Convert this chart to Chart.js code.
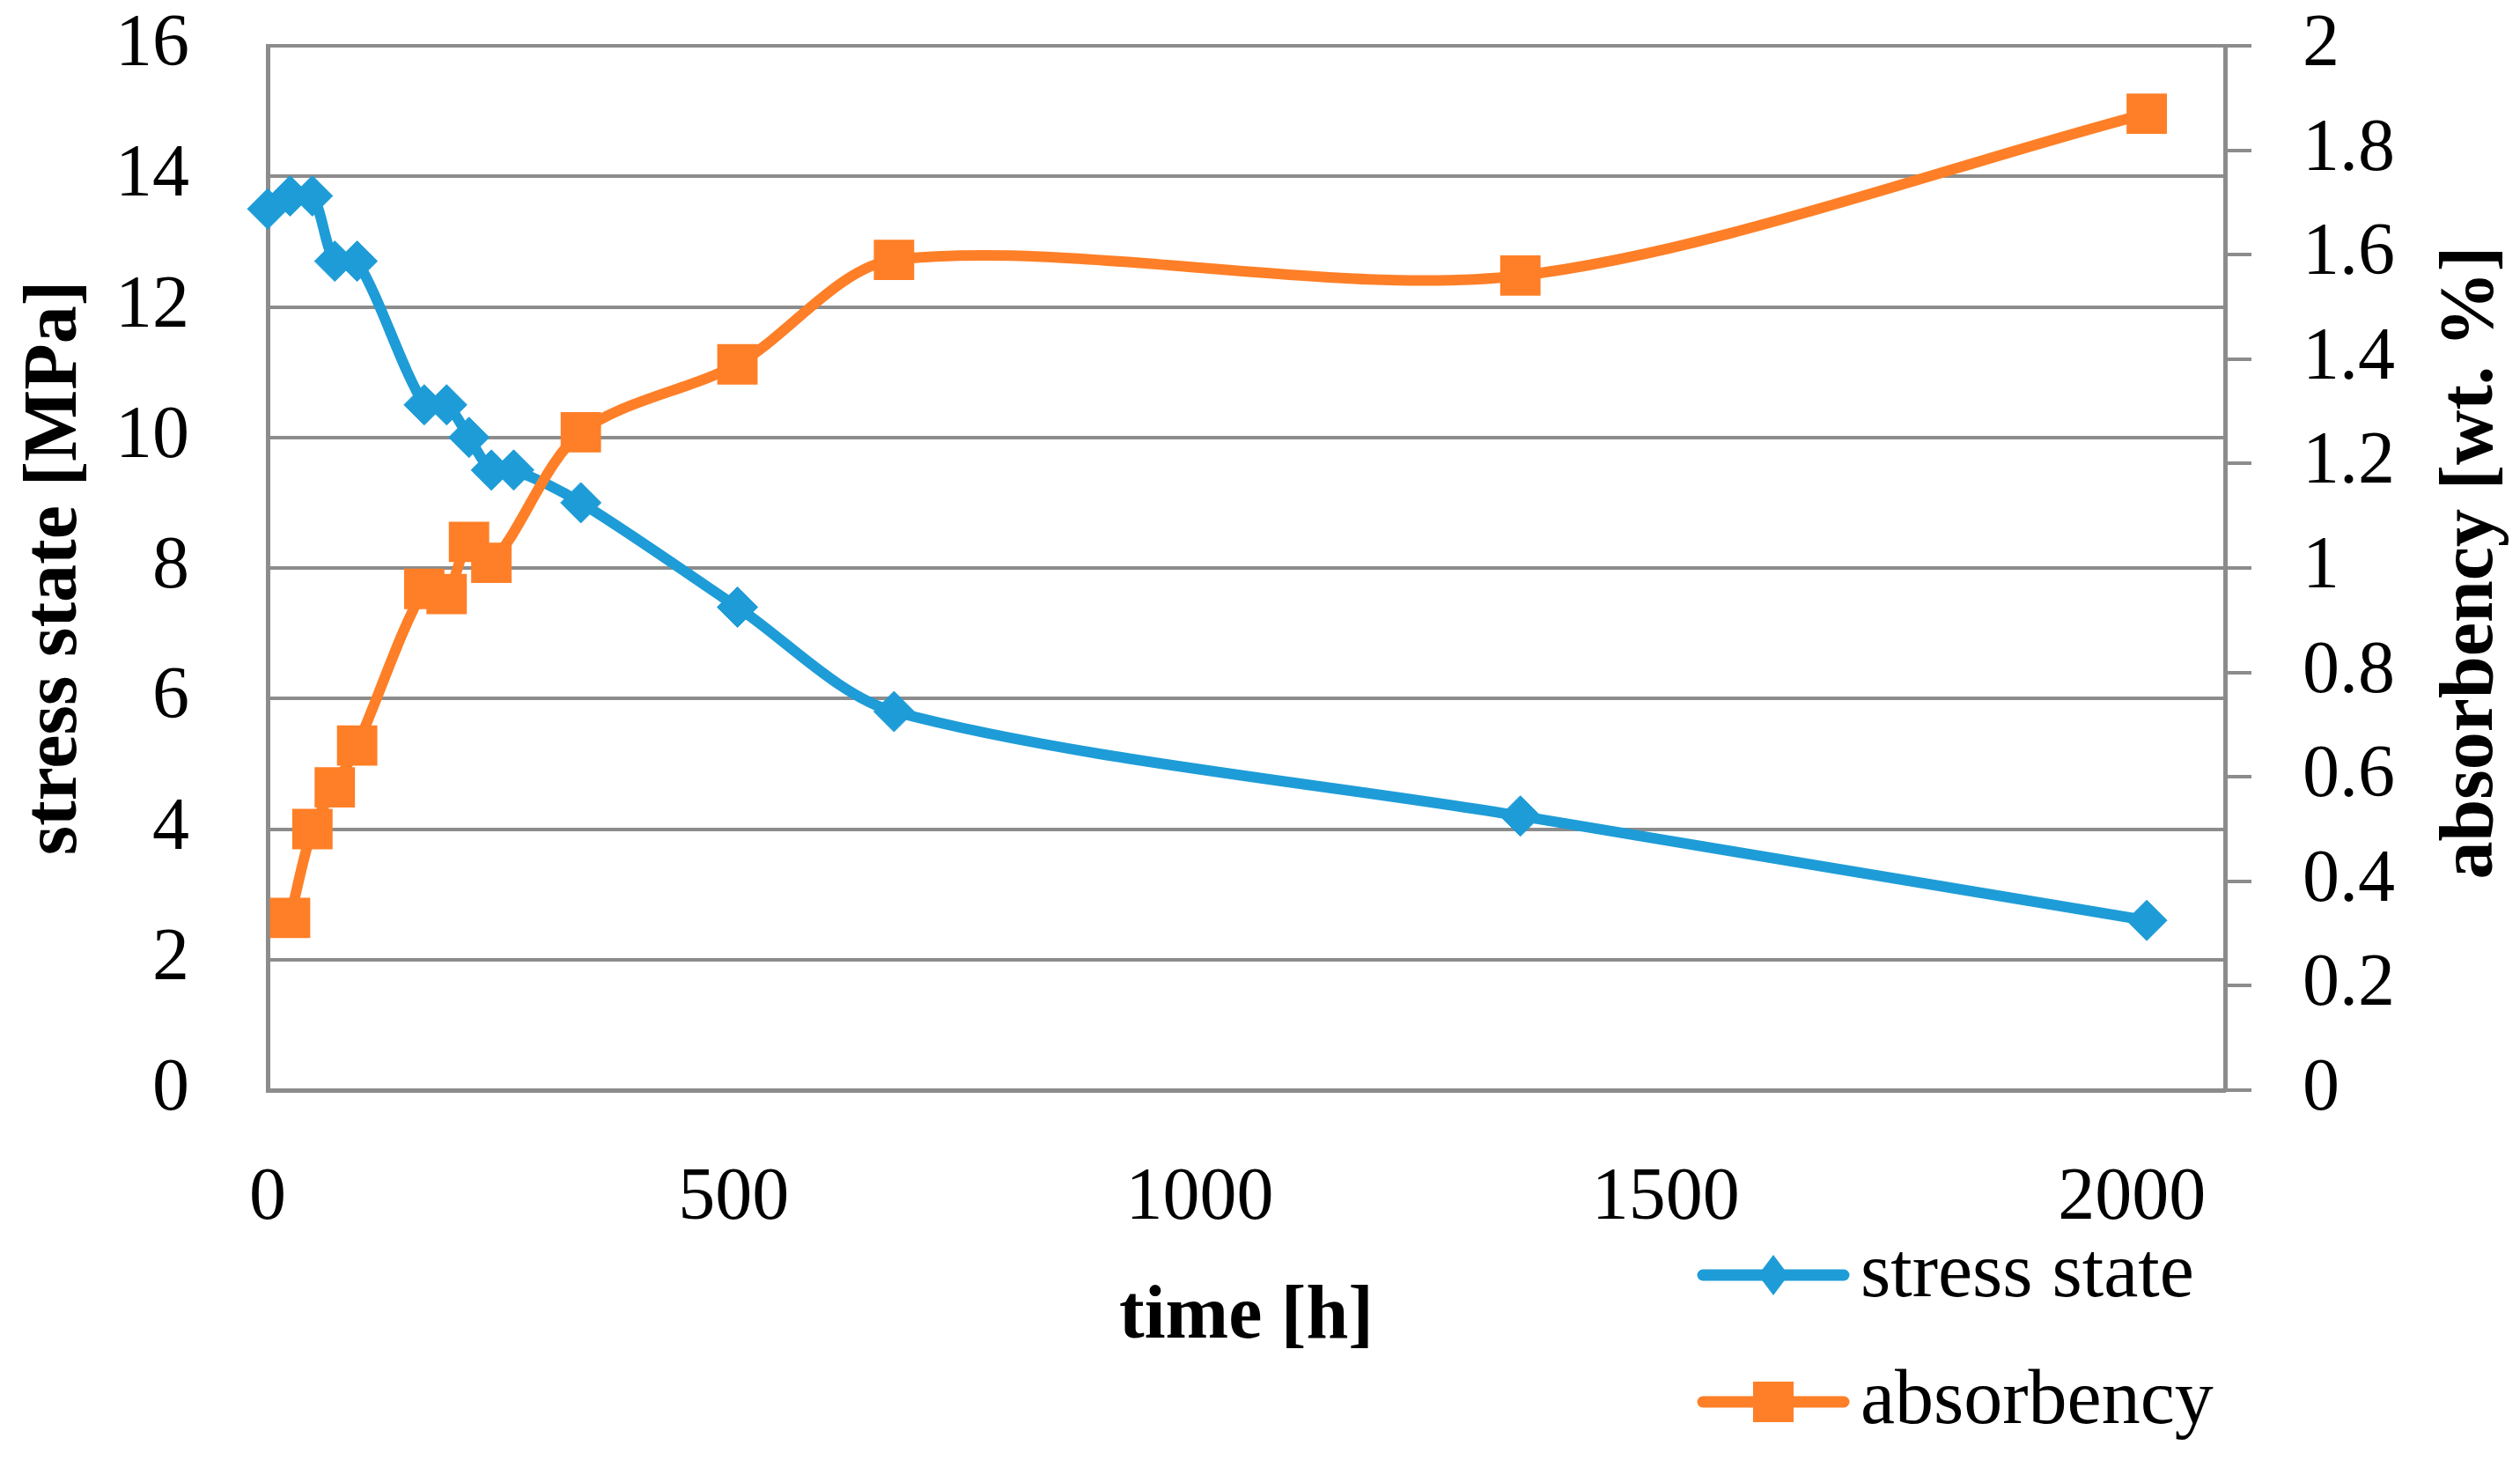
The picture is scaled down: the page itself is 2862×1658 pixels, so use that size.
<!DOCTYPE html>
<html>
<head>
<meta charset="utf-8">
<script src="https://cdn.jsdelivr.net/npm/chart.js@4.4.1/dist/chart.umd.min.js"></script>
<style>
  html, body { margin: 0; padding: 0; background: #ffffff; overflow: hidden; }
  #wrap { position: relative; width: 2862px; height: 1658px; }
  canvas { display: block; }
</style>
</head>
<body>
<div id="wrap"><canvas id="c" width="2862" height="1658" style="width:2862px;height:1658px"></canvas></div>
<script>
// ---- data ----
const stressTime   = [0, 24, 48, 72, 96, 168, 192, 216, 240, 264, 336, 504, 672, 1344, 2016];
const stressValues = [13.5, 13.7, 13.7, 12.7, 12.7, 10.5, 10.5, 10.0, 9.5, 9.5, 9.0, 7.4, 5.8, 4.2, 2.6];
const absTime      = [24, 48, 72, 96, 168, 192, 216, 240, 336, 504, 672, 1344, 2016];
const absValues    = [0.33, 0.50, 0.58, 0.66, 0.96, 0.95, 1.05, 1.01, 1.26, 1.39, 1.59, 1.56, 1.87];
const xTicks       = [0, 500, 1000, 1500, 2000];
const yLeftTicks   = [0, 2, 4, 6, 8, 10, 12, 14, 16];
const yRightTicks  = [0, 0.2, 0.4, 0.6, 0.8, 1, 1.2, 1.4, 1.6, 1.8, 2];
const seriesNames  = ['stress state', 'absorbency'];
const xTitle       = 'time [h]';
const yLeftTitle   = 'stress state [MPa]';
const yRightTitle  = 'absorbency [wt. %]';

// ---- styles ----
const BLUE = '#1E9CD7';
const ORANGE = '#FE7F27';
const GRAY = '#8C8C8C';
const FONT = '"Liberation Serif", "Times New Roman", serif';

Chart.defaults.font.family = FONT;
Chart.defaults.color = '#000000';

const toPoints = (xs, ys) => xs.map((x, i) => ({ x: x, y: ys[i] }));
const tickSetter = (arr) => (scale) => { scale.ticks = arr.map(v => ({ value: v })); };
const noPad = (s) => { s.paddingTop = 0; s.paddingBottom = 0; s.paddingLeft = 0; s.paddingRight = 0; };

const extras = {
  id: 'extras',
  afterDraw(chart) {
    const ctx = chart.ctx;
    const area = chart.chartArea;
    // right axis title (reads bottom to top)
    ctx.save();
    ctx.font = 'bold 86px ' + FONT;
    ctx.fillStyle = '#000000';
    ctx.textAlign = 'center';
    ctx.textBaseline = 'middle';
    ctx.translate(chart.width - 54, (area.top + area.bottom) / 2 - 6);
    ctx.rotate(-Math.PI / 2);
    ctx.fillText(yRightTitle, 0, 0);
    ctx.restore();

    // legend (bottom right, stacked)
    const items = [
      { name: seriesNames[0], color: BLUE, style: 'diamond', cy: 1448 },
      { name: seriesNames[1], color: ORANGE, style: 'square', cy: 1592 }
    ];
    const lx0 = 1928, lx1 = 2100, mx = 2014, tx = 2113;
    items.forEach(it => {
      ctx.save();
      ctx.strokeStyle = it.color;
      ctx.fillStyle = it.color;
      ctx.lineWidth = 13;
      ctx.lineCap = 'round';
      ctx.beginPath();
      ctx.moveTo(lx0 + 6, it.cy);
      ctx.lineTo(lx1 - 6, it.cy);
      ctx.stroke();
      ctx.beginPath();
      if (it.style === 'diamond') {
        const r = 23;
        ctx.moveTo(mx, it.cy - r);
        ctx.lineTo(mx + r * 0.75, it.cy);
        ctx.lineTo(mx, it.cy + r);
        ctx.lineTo(mx - r * 0.75, it.cy);
        ctx.closePath();
      } else {
        ctx.rect(mx - 23, it.cy - 23, 46, 46);
      }
      ctx.fill();
      ctx.font = '88px ' + FONT;
      ctx.fillStyle = '#000000';
      ctx.textAlign = 'left';
      ctx.textBaseline = 'alphabetic';
      ctx.fillText(it.name, tx, it.cy + 24);
      ctx.restore();
    });
  }
};

new Chart(document.getElementById('c'), {
  type: 'line',
  data: {
    datasets: [
      {
        label: seriesNames[0],
        data: toPoints(stressTime, stressValues),
        yAxisID: 'y',
        borderColor: BLUE,
        backgroundColor: BLUE,
        borderWidth: 12,
        tension: 0.3,
        pointStyle: 'rectRot',
        pointRadius: 23,
        pointHoverRadius: 23,
        pointBorderWidth: 1,
        pointBackgroundColor: BLUE,
        pointBorderColor: BLUE,
        clip: false,
        order: 1
      },
      {
        label: seriesNames[1],
        data: toPoints(absTime, absValues),
        yAxisID: 'y1',
        borderColor: ORANGE,
        backgroundColor: ORANGE,
        borderWidth: 12,
        tension: 0.3,
        pointStyle: 'rect',
        pointRadius: 31,
        pointHoverRadius: 31,
        pointBorderWidth: 2,
        pointBackgroundColor: ORANGE,
        pointBorderColor: ORANGE,
        clip: false,
        order: 0
      }
    ]
  },
  options: {
    responsive: false,
    devicePixelRatio: 1,
    animation: false,
    events: [],
    layout: { padding: { top: 52, left: 0, right: 0, bottom: 0 } },
    plugins: { legend: { display: false }, tooltip: { enabled: false } },
    scales: {
      x: {
        type: 'linear',
        min: 0,
        max: 2100,
        afterBuildTicks: tickSetter(xTicks),
        afterFit: (s) => { s.height = 420; noPad(s); },
        grid: { display: false, drawTicks: false },
        border: { display: true, color: GRAY, width: 5 },
        ticks: { font: { size: 84 }, color: '#000000', padding: 74, maxRotation: 0, autoSkip: false, callback: (v) => String(v) },
        title: { display: true, text: xTitle, color: '#000000', font: { size: 86, weight: 'bold' }, padding: { top: 0, bottom: 110 } }
      },
      y: {
        type: 'linear',
        position: 'left',
        min: 0,
        max: 16,
        afterBuildTicks: tickSetter(yLeftTicks),
        afterFit: (s) => { s.width = 304; noPad(s); },
        grid: { color: GRAY, lineWidth: 4, drawTicks: false },
        border: { display: true, color: GRAY, width: 5 },
        ticks: { font: { size: 84 }, color: '#000000', padding: 89, callback: (v) => String(v) },
        title: { display: true, text: yLeftTitle, color: '#000000', font: { size: 86, weight: 'bold' }, padding: { top: 12, bottom: 0 } }
      },
      y1: {
        type: 'linear',
        position: 'right',
        min: 0,
        max: 2,
        afterBuildTicks: tickSetter(yRightTicks),
        afterFit: (s) => { s.width = 335; noPad(s); },
        grid: { drawOnChartArea: false, drawTicks: true, tickLength: 30, color: GRAY, lineWidth: 4 },
        border: { display: true, color: GRAY, width: 5 },
        ticks: { font: { size: 84 }, color: '#000000', padding: 58, callback: (v) => String(Number(v.toFixed(1))) }
      }
    }
  },
  plugins: [extras]
});
</script>
</body>
</html>
